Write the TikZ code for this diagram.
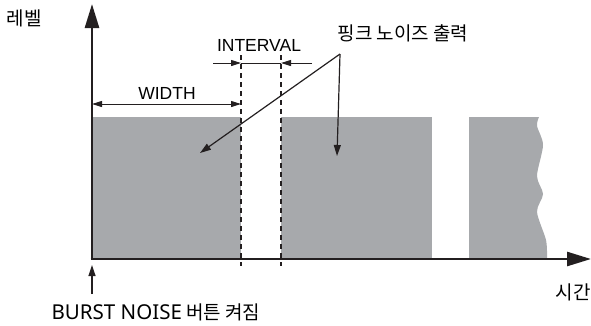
\documentclass[tikz,border=0pt]{standalone}
\usepackage{fontspec}
\setmainfont{Liberation Sans}
\newfontfamily\kofont{Noto Sans CJK KR}
\newfontfamily\latfont{Noto Sans}
\usetikzlibrary{arrows.meta}
\definecolor{noisegray}{RGB}{167,169,172}
\definecolor{inkgray}{RGB}{35,31,32}

\begin{document}
\begin{tikzpicture}[
  x=1pt, y=-1pt,
  axis/.style    = {line width=2.6pt, inkgray, -{Triangle[length=24pt, width=14pt]}},
  dimline/.style = {line width=1pt, inkgray, -{Triangle[length=10pt, width=6pt]}},
  dimboth/.style = {line width=1pt, inkgray, {Triangle[length=10pt, width=6pt]}-{Triangle[length=10pt, width=6pt]}},
  lead/.style    = {line width=1.2pt, inkgray, -{Triangle[length=11pt, width=7pt]}},
  guide/.style   = {line width=1.2pt, inkgray, dash pattern=on 5pt off 4pt},
  kolabel/.style = {inner sep=0pt, font=\kofont\fontsize{19}{21}\selectfont},
  dimlabel/.style= {inner sep=0pt, font=\fontsize{17.5}{19}\selectfont}
]
\useasboundingbox (0,0) rectangle (591,325);

% noise bursts
\fill[noisegray] (93,117) rectangle (241,258);
\fill[noisegray] (281,117) rectangle (432,258);
\fill[noisegray] (469,117) -- (539,117)
  -- plot[smooth] coordinates {(539,117) (537,126) (543,145) (537,176) (543,194) (537,212) (546,240) (547,258)}
  -- (469,258) -- cycle;

% axes
\coordinate (origin) at (92,259);
\coordinate (ytip)   at (92,4);
\coordinate (xtip)   at (591,259);
\draw[axis] (90.7,259) -- (xtip);
\draw[axis] (origin) -- (ytip);

% guides for the interval
\coordinate (gl top) at (241,55);
\coordinate (gl bot) at (241,266);
\coordinate (gr top) at (281,55);
\coordinate (gr bot) at (281,266);
\draw[guide] (gl top) -- (gl bot);
\draw[guide] (gr top) -- (gr bot);

% dimensions
\coordinate (wl) at (92,104);
\coordinate (wr) at (241,104);
\draw[dimboth] (wl) -- (wr);
\node[dimlabel] (width) at (167,93) {WIDTH};

\coordinate (il) at (213,63);
\coordinate (ilend) at (241,63);
\coordinate (ir) at (312,63);
\coordinate (irend) at (281,63);
\draw[dimline] (il) -- (ilend);
\draw[dimline] (ir) -- (irend);
\draw[line width=1pt, inkgray] (ilend) -- (irend);
\node[dimlabel] (interval) at (259,45) {INTERVAL};

% labels
\node[kolabel] (level) at (24,18) {레벨};
\node[kolabel] (time)  at (573,292) {시간};
\node[kolabel] (burst) at (156,312) {{\latfont\fontsize{20.5}{22}\selectfont BURST NOISE} 버튼 켜짐};
\node[kolabel] (pink)  at (403,33) {핑크 노이즈 출력};

% leaders
\coordinate (apex) at (340,54);
\coordinate (burst one) at (200,153);
\coordinate (burst two) at (337,156);
\draw[lead] (apex) -- (burst one);
\draw[lead] (apex) -- (burst two);

\coordinate (press) at (92,294);
\draw[lead] (press) -- (92,265);
\end{tikzpicture}
\end{document}
